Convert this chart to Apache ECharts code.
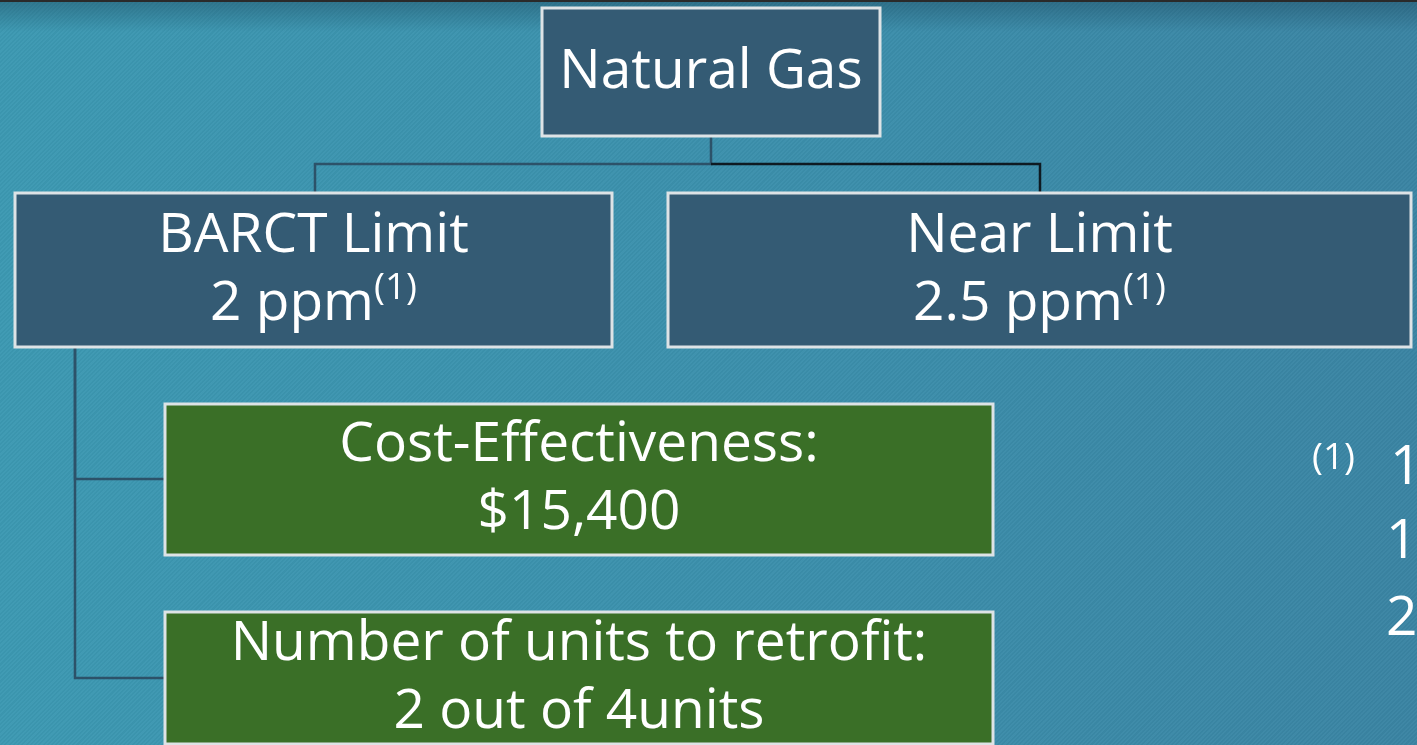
<!DOCTYPE html>
<html>
<head>
<meta charset="utf-8">
<script src="https://cdn.jsdelivr.net/npm/echarts@6/dist/echarts.min.js"></script>
<style>
  html, body { margin: 0; padding: 0; }
  body {
    width: 1417px;
    height: 745px;
    overflow: hidden;
    background:
      linear-gradient(to bottom, #2a2a2a 0, #2a2a2a 2px, rgba(20, 55, 75, 0.35) 2px, rgba(20, 55, 75, 0) 32px),
      repeating-linear-gradient(135deg, rgba(255, 255, 255, 0.025) 0 1.5px, rgba(0, 0, 0, 0.025) 1.5px 3px),
      linear-gradient(to right, #3c99b2, #3b8eab 60%, #3a84a3);
  }
  .chart { width: 1417px; height: 745px; }
</style>
</head>
<body>
<div id="main" class="chart"></div>
<script>
// node texts
const nodeTitles = ["Natural Gas", "BARCT Limit", "Near Limit", "Cost-Effectiveness:", "Number of units to retrofit:"];
const nodeValues = ["", "2 ppm", "2.5 ppm", "$15,400", "2 out of 4units"];
const nodeNotes = ["", "(1)", "(1)", "", ""];
const nodeKinds = ["level", "level", "level", "result", "result"];

// node boxes in page units [x0, y0, x1, y1]
const nodeBoxes = [
  [542, 8, 880, 136],
  [15, 193, 612, 347],
  [668, 193, 1411, 347],
  [165, 404, 993, 555],
  [165, 612, 993, 744],
];

// connectors (elbow polylines)
const linkPaths = [
  [[711, 136], [711, 164], [315, 164], [315, 193]],
  [[711, 164], [1040, 164], [1040, 193]],
  [[75, 347], [75, 479], [165, 479]],
  [[75, 347], [75, 678], [165, 678]],
];
const linkColors = ["#2c5269", "#0e1a22", "#2c5269", "#2c5269"];

// footnote fragments on the right edge (cut off in the original)
const noteTexts = ["(1)", "1", "1", "2"];
const notePos = [[1312, 458], [1390, 468], [1386, 542], [1386, 619]];
const noteSizes = [37, 55, 55, 55];

const FONT = "'Open Sans', 'Noto Sans', sans-serif";
const fills = { level: "#345b74", result: "#3a6f27" };

const chart = echarts.init(document.getElementById("main"));

const option = {
  animation: false,
  backgroundColor: "transparent",
  grid: { left: 0, right: 0, top: 0, bottom: 0 },
  xAxis: { type: "value", min: 0, max: 1417, show: false },
  yAxis: { type: "value", min: 0, max: 745, inverse: true, show: false },
  series: [
    {
      type: "lines",
      coordinateSystem: "cartesian2d",
      polyline: true,
      silent: true,
      z: 1,
      data: linkPaths.map((coords, i) => ({
        coords: coords,
        lineStyle: { color: linkColors[i], width: 2.5, opacity: 1 },
      })),
    },
    {
      type: "custom",
      coordinateSystem: "cartesian2d",
      silent: true,
      z: 2,
      data: nodeBoxes.map((b, i) => [b[0], b[1], b[2], b[3], i]),
      renderItem: function (params, api) {
        const i = api.value(4);
        const p0 = api.coord([api.value(0), api.value(1)]);
        const p1 = api.coord([api.value(2), api.value(3)]);
        let text = "{t|" + nodeTitles[i] + "}";
        if (nodeValues[i]) {
          text += "\n{t|" + nodeValues[i] + "}";
          if (nodeNotes[i]) text += "{s|" + nodeNotes[i] + "}";
        }
        return {
          type: "group",
          children: [
            {
              type: "rect",
              shape: { x: p0[0], y: p0[1], width: p1[0] - p0[0], height: p1[1] - p0[1] },
              style: { fill: fills[nodeKinds[i]], stroke: "#dde3e6", lineWidth: 3 },
            },
            {
              type: "text",
              x: (p0[0] + p1[0]) / 2,
              y: (p0[1] + p1[1]) / 2,
              style: {
                text: text,
                align: "center",
                verticalAlign: "middle",
                rich: {
                  t: { fontSize: 55, lineHeight: 68, fill: "#ffffff", fontFamily: FONT },
                  s: { fontSize: 37, lineHeight: 60, fill: "#ffffff", fontFamily: FONT, verticalAlign: "top" },
                },
              },
            },
          ],
        };
      },
    },
    {
      type: "custom",
      coordinateSystem: "cartesian2d",
      silent: true,
      z: 3,
      data: notePos.map((p, i) => [p[0], p[1], i]),
      renderItem: function (params, api) {
        const i = api.value(2);
        const p = api.coord([api.value(0), api.value(1)]);
        return {
          type: "text",
          x: p[0],
          y: p[1],
          style: {
            text: noteTexts[i],
            fill: "#ffffff",
            fontSize: noteSizes[i],
            fontFamily: FONT,
            align: "left",
            verticalAlign: "middle",
            shadowColor: "rgba(0,0,0,0.3)",
            shadowBlur: 3,
            shadowOffsetY: 1,
          },
        };
      },
    },
  ],
};

option && chart.setOption(option);
</script>
</body>
</html>
